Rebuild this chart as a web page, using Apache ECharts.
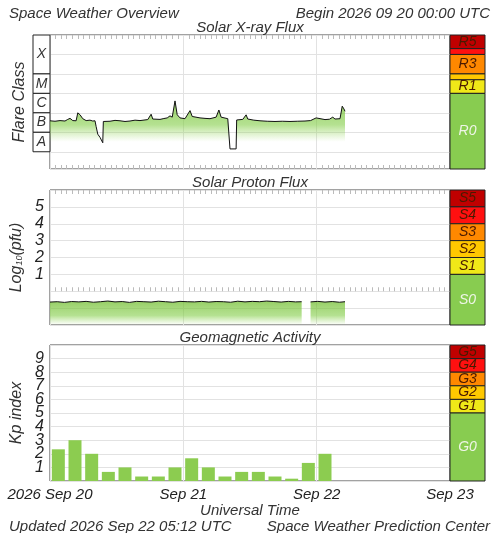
<!DOCTYPE html>
<html><head><meta charset="utf-8">
<script src="https://cdn.jsdelivr.net/npm/echarts@6/dist/echarts.min.js"></script>
<style>html,body{margin:0;padding:0;background:#fff}#c{width:500px;height:533px}</style>
</head><body><div id="c"></div>
<script>
// ---- data ----
const dayLabels = {0:'2026 Sep 20',24:'Sep 21',48:'Sep 22',72:'Sep 23'};
const xrayHours = [0,0.9,1.8,2.7,3.2,3.6,4.1,4.7,5.0,5.4,5.9,6.5,7.2,7.7,8.1,8.3,8.6,9.0,9.5,9.6,10.8,11.7,12.6,13.5,14.4,15.3,16.2,17.6,18.2,18.5,19.8,20.5,21.1,21.6,22.0,22.5,22.9,23.4,24.3,25.2,25.6,27.0,27.9,28.8,29.9,30.4,30.8,32.0,32.3,32.4,33.5,33.6,34.7,35.3,35.6,36.7,37.8,39.1,40.5,41.8,43.2,44.5,45.9,46.9,47.9,48.2,49.5,50.3,50.9,51.3,52.2,52.6,52.9,53.1];
const xrayFlux = [3.9e-7,3.7e-7,4.0e-7,3.8e-7,4.6e-7,5.2e-7,4.0e-7,3.9e-7,1.0e-6,8.0e-7,5.0e-7,4.0e-7,4.2e-7,3.8e-7,3.9e-7,2.0e-7,8e-8,5.5e-8,2.9e-8,3.6e-7,3.7e-7,4.1e-7,3.9e-7,3.6e-7,3.8e-7,4.2e-7,4.0e-7,4.5e-7,8.5e-7,4.8e-7,4.6e-7,5.1e-7,5.5e-7,7.0e-7,6.0e-7,4.1e-6,8e-7,5.5e-7,5.0e-7,1.3e-6,6.5e-7,5.5e-7,5.2e-7,5.0e-7,6.0e-7,1.4e-6,6.0e-7,5.0e-7,4.5e-7,1.4e-8,1.4e-8,4.3e-7,4.6e-7,7.9e-7,4.8e-7,4.2e-7,3.9e-7,3.7e-7,3.6e-7,3.7e-7,3.6e-7,3.7e-7,3.8e-7,4.0e-7,5.5e-7,4.4e-7,4.5e-7,4.7e-7,6.0e-7,4.8e-7,5.0e-7,2.2e-6,1.6e-6,1.2e-6];
const protonHours = [0,1.3,2.6,3.9,5.2,6.5,7.8,9.1,10.4,11.7,13.0,14.3,15.6,16.9,18.2,19.5,20.8,22.1,23.4,24.7,26.0,27.3,28.6,29.9,31.2,32.5,33.8,35.1,36.4,37.7,39.0,40.3,41.6,42.9,44.2,45.3,45.4,46.8,46.9,48.2,49.5,50.8,52.1,53.1];
const protonLog = [-0.64,-0.62,-0.66,-0.61,-0.63,-0.6,-0.65,-0.62,-0.58,-0.63,-0.61,-0.66,-0.6,-0.62,-0.64,-0.59,-0.62,-0.65,-0.6,-0.62,-0.63,-0.6,-0.64,-0.61,-0.62,-0.65,-0.59,-0.63,-0.6,-0.62,-0.58,-0.61,-0.64,-0.6,-0.63,-0.62,null,null,-0.63,-0.6,-0.64,-0.61,-0.65,-0.62];
const kpHours = [1.5,4.5,7.5,10.5,13.5,16.5,19.5,22.5,25.5,28.5,31.5,34.5,37.5,40.5,43.5,46.5,49.5];
const kpValues = [2.33,3.0,2.0,0.67,1.0,0.33,0.33,1.0,1.67,1.0,0.33,0.67,0.67,0.33,0.17,1.33,2.0];
const flareClasses = [['X',1e-4,1e-2],['M',1e-5,1e-4],['C',1e-6,1e-5],['B',1e-7,1e-6],['A',1e-8,1e-7]];
const rScale = [['R5',2e-3,1e-2],['',1e-3,2e-3],['R3',1e-4,1e-3],['',5e-5,1e-4],['R1',1e-5,5e-5],['R0',1.3e-9,1e-5]];
const sScale = [['S5',5,6],['S4',4,5],['S3',3,4],['S2',2,3],['S1',1,2],['S0',-2,1]];
const gScale = [['G5',9,10],['G4',8,9],['G3',7,8],['G2',6,7],['G1',5,6],['G0',0,5]];
const scaleColors = ['#c00000','#ff1010','#ff8800','#ffc800','#f0e818','#88cc50'];

// ---- chart ----
const F = '"Liberation Sans", Arial, sans-serif';
const txt = {fontFamily:F, fontStyle:'italic', color:'#333'};
const panels = [{top:35,h:134},{top:190,h:135},{top:345,h:136}];
const grids = [], xAxes = [], yAxes = [], series = [];
const yDefs = [
  {type:'log', min:1.3e-9, max:1e-2, logBase:10},
  {type:'value', min:-2, max:6, interval:1},
  {type:'value', min:0, max:10, interval:1}
];
panels.forEach((p,i)=>{
  grids.push({left:50, top:p.top, width:400, height:p.h, show:true, borderColor:'#444', borderWidth:1, outerBoundsMode:'none', containLabel:false});
  xAxes.push({gridIndex:i, type:'value', min:0, max:72, interval:24, position:'bottom',
    axisLine:{show:false}, axisTick:{show:i<2, inside:true, length:0}, minorTick:{show:i<2, splitNumber:24, length:4, lineStyle:{color:'#bbb'}},
    splitLine:{show:true, lineStyle:{color:'#e2e2e2'}},
    axisLabel:{show:i===2, ...txt, fontSize:15, color:'#222', margin:6, formatter:v=>dayLabels[v]||''}});
});
[0,1].forEach(i=>{
  xAxes.push({gridIndex:i, type:'value', min:0, max:72, interval:24, position:'top',
    axisLine:{show:false}, axisTick:{show:true, inside:true, length:0}, minorTick:{show:true, splitNumber:24, length:4, lineStyle:{color:'#bbb'}},
    splitLine:{show:false}, axisLabel:{show:false}});
});
yAxes.push({gridIndex:0, ...yDefs[0], axisLine:{show:false}, axisTick:{show:false}, axisLabel:{show:false},
  splitLine:{show:true, lineStyle:{color:'#e2e2e2'}},
  name:'Flare Class', nameLocation:'middle', nameGap:22, nameTextStyle:{...txt, fontSize:16}});
yAxes.push({gridIndex:1, ...yDefs[1], axisLine:{show:false}, axisTick:{show:false},
  axisLabel:{...txt, fontSize:16, color:'#222', margin:6, formatter:v=>(v>=1&&v<=5)?String(v):''},
  splitLine:{show:true, lineStyle:{color:'#e2e2e2'}},
  name:'Log{s|10}(pfu)', nameLocation:'middle', nameGap:20,
  nameTextStyle:{...txt, fontSize:16, rich:{s:{...txt, fontSize:9, verticalAlign:'bottom', padding:[6,0,0,0]}}}});
yAxes.push({gridIndex:2, ...yDefs[2], axisLine:{show:false}, axisTick:{show:false},
  axisLabel:{...txt, fontSize:16, color:'#222', margin:6, formatter:v=>(v>=1&&v<=9)?String(v):''},
  splitLine:{show:true, lineStyle:{color:'#e2e2e2'}},
  name:'Kp index', nameLocation:'middle', nameGap:20, nameTextStyle:{...txt, fontSize:16}});

const fade = (s1,s2)=>({type:'linear',x:0,y:0,x2:0,y2:1,colorStops:[{offset:0,color:'rgba(105,185,35,1)'},{offset:s1,color:'rgba(130,205,70,0.85)'},{offset:s2,color:'rgba(150,215,90,0)'},{offset:1,color:'rgba(150,215,90,0)'}]});
series.push({type:'line', xAxisIndex:0, yAxisIndex:0, data:xrayHours.map((h,k)=>[h,xrayFlux[k]]), symbol:'none',
  lineStyle:{color:'#111', width:1}, areaStyle:{color:fade(0.35,0.6), origin:'start'}});
series.push({type:'line', xAxisIndex:1, yAxisIndex:1, data:protonHours.map((h,k)=>[h,protonLog[k]]), symbol:'none', connectNulls:false,
  lineStyle:{color:'#111', width:1}, areaStyle:{color:fade(0.6,1), origin:'start'}});
series.push({type:'bar', xAxisIndex:2, yAxisIndex:2, data:kpHours.map((h,k)=>[h,kpValues[k]]), barWidth:13,
  itemStyle:{color:'#8ccc50'}});

function sideGrid(gi, left, width, top, h, yDef, bands, colored){
  grids.push({left:left, top:top, width:width, height:h, outerBoundsMode:'none', containLabel:false});
  const xi = xAxes.length, yi = yAxes.length;
  xAxes.push({gridIndex:gi, type:'value', min:0, max:1, show:false});
  yAxes.push({gridIndex:gi, ...yDef, show:false, splitLine:{show:false}});
  series.push({type:'line', xAxisIndex:xi, yAxisIndex:yi, data:[], silent:true,
    markArea:{silent:true, data:bands.map((b,k)=>[
      {xAxis:0, yAxis:b[1], name:b[0],
        itemStyle:{color:colored?scaleColors[k]:'#fff', borderColor:'#222', borderWidth:1},
        label:{show:true, position:'inside', ...txt, fontSize:14,
          color: colored ? (k===5?'#eef5e6':'#4a1a00') : '#333', formatter:b[0]}},
      {xAxis:1, yAxis:b[2]}])}});
}
sideGrid(3,450,35,35,134,yDefs[0],rScale,true);
sideGrid(4,450,35,190,135,yDefs[1],sScale,true);
sideGrid(5,450,35,345,136,yDefs[2],gScale,true);
sideGrid(6,33,17,35,134,yDefs[0],flareClasses,false);

const chart = echarts.init(document.getElementById('c'), null, {renderer:'canvas'});
const ts = {...txt, fontWeight:'normal', fontSize:15};
chart.setOption({
  animation:false,
  backgroundColor:'#fff',
  title:[
    {text:'Space Weather Overview', left:4, top:1, textStyle:ts},
    {text:'Begin 2026 09 20 00:00 UTC', right:5, top:1, textStyle:ts},
    {text:'Solar X-ray Flux', left:'center', top:15, textStyle:ts},
    {text:'Solar Proton Flux', left:'center', top:170, textStyle:ts},
    {text:'Geomagnetic Activity', left:'center', top:325, textStyle:ts},
    {text:'Universal Time', left:'center', top:498, textStyle:ts},
    {text:'Updated 2026 Sep 22 05:12 UTC', left:4, top:514, textStyle:ts},
    {text:'Space Weather Prediction Center', right:5, top:514, textStyle:ts}
  ],
  grid:grids, xAxis:xAxes, yAxis:yAxes, series:series
});
</script></body></html>
